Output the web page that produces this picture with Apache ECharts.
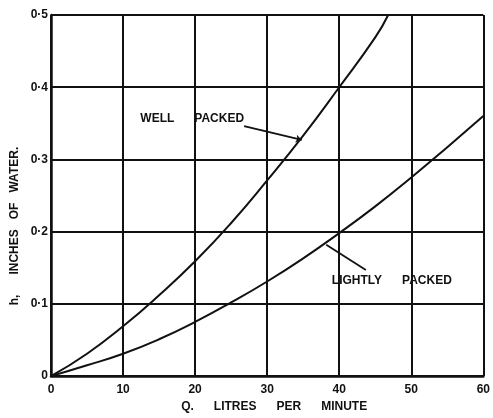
<!DOCTYPE html>
<html>
<head>
<meta charset="utf-8">
<script src="https://cdn.jsdelivr.net/npm/echarts@6/dist/echarts.min.js"></script>
<style>
  html, body { margin: 0; padding: 0; background: #fff; }
  #chart { width: 493px; height: 418px; }
</style>
</head>
<body>
<div id="chart"></div>
<script>
// Flow rate Q (litres per minute) against head h (inches of water)
const flowWell = [0, 5, 10, 15, 20, 25, 30, 35, 40, 45, 46.8];
const headWell = [0, 0.031, 0.069, 0.112, 0.159, 0.212, 0.271, 0.333, 0.400, 0.469, 0.500];

const flowLight = [0, 5, 10, 15, 20, 25, 30, 35, 40, 45, 50, 55, 60];
const headLight = [0, 0.015, 0.031, 0.051, 0.075, 0.102, 0.131, 0.163, 0.198, 0.235, 0.275, 0.317, 0.360];

const xTicks = [0, 10, 20, 30, 40, 50, 60];
const yTickLabels = { '0': '0', '0.1': '0·1', '0.2': '0·2', '0.3': '0·3', '0.4': '0·4', '0.5': '0·5' };

// Leader lines: [from, to] in (Q, h)
const wellLeader = [[26.8, 0.346], [34.8, 0.327]];
const lightLeader = [[43.7, 0.147], [38.2, 0.182]];
const wellLabelAt = [19.6, 0.356];
const lightLabelAt = [47.3, 0.132];

const font = '"Liberation Sans", Arial, sans-serif';
const ink = '#111';

const chart = echarts.init(document.getElementById('chart'), null, { renderer: 'canvas' });

function pairs(xs, ys) { return xs.map((x, i) => [x, ys[i]]); }

chart.setOption({
  animation: false,
  backgroundColor: '#fff',
  grid: { left: 51, right: 6, top: 15, bottom: 36 },
  xAxis: {
    type: 'value', min: 0, max: 60, interval: 10,
    axisLine: { show: true, lineStyle: { color: ink, width: 2.5 } },
    axisTick: { show: false },
    splitLine: { show: true, lineStyle: { color: ink, width: 2 } },
    axisLabel: {
      color: ink, fontFamily: font, fontWeight: 'bold', fontSize: 12, margin: 8,
      formatter: v => xTicks.includes(v) ? String(v) : ''
    },
    name: 'Q.      LITRES      PER      MINUTE',
    nameLocation: 'middle', nameGap: 24,
    nameTextStyle: { color: ink, fontFamily: font, fontWeight: 'bold', fontSize: 12, padding: [0, 0, 0, 14] }
  },
  yAxis: {
    type: 'value', min: 0, max: 0.5, interval: 0.1,
    axisLine: { show: true, lineStyle: { color: ink, width: 2.5 } },
    axisTick: { show: false },
    splitLine: { show: true, lineStyle: { color: ink, width: 2 } },
    axisLabel: {
      color: ink, fontFamily: font, fontWeight: 'bold', fontSize: 12, margin: 3,
      formatter: v => yTickLabels[String(Math.round(v * 10) / 10)] || ''
    }
  },
  series: [
    {
      name: 'WELL PACKED', type: 'line', smooth: 0.5, symbol: 'none', clip: true,
      lineStyle: { color: ink, width: 2 },
      data: pairs(flowWell, headWell),
      markLine: {
        silent: true, symbol: ['none', 'arrow'], symbolSize: 6,
        lineStyle: { color: ink, width: 1.8, type: 'solid' },
        label: { show: false },
        data: [[{ coord: wellLeader[0] }, { coord: wellLeader[1] }]]
      }
    },
    {
      name: 'LIGHTLY PACKED', type: 'line', smooth: 0.5, symbol: 'none',
      lineStyle: { color: ink, width: 2 },
      data: pairs(flowLight, headLight),
      markLine: {
        silent: true, symbol: ['none', 'none'],
        lineStyle: { color: ink, width: 1.8, type: 'solid' },
        label: { show: false },
        data: [[{ coord: lightLeader[0] }, { coord: lightLeader[1] }]]
      }
    }
  ]
});

// Curve captions and the vertical axis title
const wellPx = chart.convertToPixel({ gridIndex: 0 }, wellLabelAt);
const lightPx = chart.convertToPixel({ gridIndex: 0 }, lightLabelAt);
const textStyle = { fill: ink, fontFamily: font, fontWeight: 'bold', fontSize: 12 };

chart.setOption({
  graphic: [
    {
      type: 'text', x: wellPx[0], y: wellPx[1],
      style: Object.assign({ text: 'WELL      PACKED', align: 'center', verticalAlign: 'middle' }, textStyle)
    },
    {
      type: 'text', x: lightPx[0], y: lightPx[1],
      style: Object.assign({ text: 'LIGHTLY      PACKED', align: 'center', verticalAlign: 'middle' }, textStyle)
    },
    {
      type: 'text', x: 15, y: 226, rotation: Math.PI / 2,
      style: Object.assign({ text: 'h,      INCHES   OF   WATER.', align: 'center', verticalAlign: 'middle' }, textStyle)
    }
  ]
});
</script>
</body>
</html>
